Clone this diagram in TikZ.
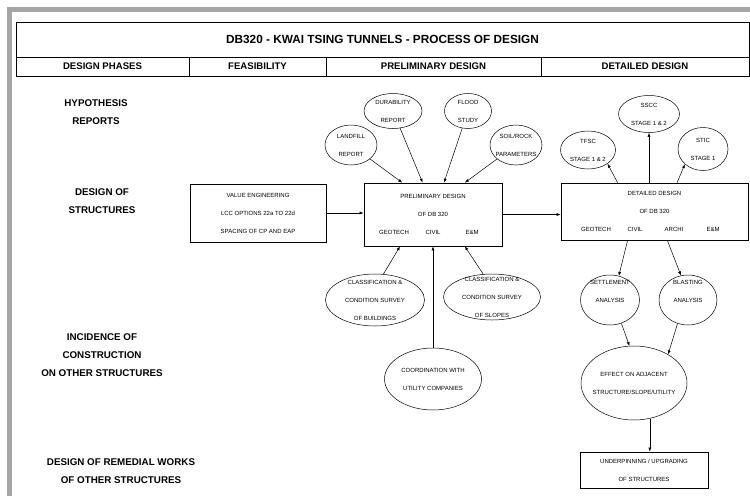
\documentclass[tikz,border=0pt]{standalone}
\usepackage{fontspec}
\setmainfont{Liberation Sans}
\usetikzlibrary{shapes.geometric,arrows.meta}

\begin{document}
\begin{tikzpicture}[
        x=1pt, y=-1pt,
        my cell/.style = {
            draw,
            line width=0.7pt,
            inner sep=0pt,
            font=\fontsize{9.6}{11}\selectfont\bfseries},
        my phase/.style = {
            align=center,
            inner sep=0pt,
            font=\fontsize{9.8}{18}\selectfont\bfseries},
        my box/.style = {
            draw,
            line width=0.7pt,
            align=center,
            inner sep=0pt,
            font=\fontsize{6}{18}\selectfont},
        my ellipse/.style = {
            draw,
            ellipse,
            line width=0.5pt,
            align=center,
            inner xsep=-8pt,
            inner ysep=-4pt,
            font=\fontsize{6}{18}\selectfont},
        my arrow/.style = {
            draw,
            line width=0.5pt,
            -{Latex[length=4pt,width=3pt]}}
    ]
    \useasboundingbox (0,0) rectangle (750,496);
    \fill[black!35] (7,7) rectangle (12,496);
    \fill[black!35] (7,7) rectangle (750,12);

    \node[my cell, minimum width=733pt, minimum height=35pt, font=\fontsize{11.8}{13}\selectfont\bfseries]
        (title) at (382.5,39.5) {DB320 - KWAI TSING TUNNELS - PROCESS OF DESIGN};
    \node[my cell, minimum width=173pt, minimum height=19pt] (phases) at (102.5,66.5) {DESIGN PHASES};
    \node[my cell, minimum width=137pt, minimum height=19pt] (feas) at (257.5,66.5) {FEASIBILITY};
    \node[my cell, minimum width=215pt, minimum height=19pt] (prel) at (433.5,66.5) {PRELIMINARY DESIGN};
    \node[my cell, minimum width=208pt, minimum height=19pt] (det) at (645,66.5) {DETAILED DESIGN};

    \node[my phase] (hypo) at (96,112.5) {HYPOTHESIS\\REPORTS};
    \node[my phase] (structs) at (102,201) {DESIGN OF\\STRUCTURES};
    \node[my phase] (incid) at (102,355.5) {INCIDENCE OF\\CONSTRUCTION\\ON OTHER STRUCTURES};
    \node[my phase] (remed) at (121,471) {DESIGN OF REMEDIAL WORKS\\OF OTHER STRUCTURES};

    \node[my box, minimum width=136pt, minimum height=58pt] (ve) at (258,213)
        {VALUE ENGINEERING\\LCC OPTIONS 22a TO 22d\\SPACING OF CP AND EAP};
    \node[my box, minimum width=138pt, minimum height=63pt] (prelim) at (433,214.5)
        {PRELIMINARY DESIGN\\OF DB 320\\\makebox[39pt]{GEOTECH}\makebox[39pt]{CIVIL}\makebox[39pt]{E\&M}};
    \node[my box, minimum width=187pt, minimum height=57pt] (detailed) at (654.5,211.5)
        {DETAILED DESIGN\\OF DB 320\\\makebox[39pt]{GEOTECH}\makebox[39pt]{CIVIL}\makebox[39pt]{ARCHI}\makebox[39pt]{E\&M}};
    \node[my box, minimum width=128pt, minimum height=36pt] (under) at (644,470)
        {UNDERPINNING / UPGRADING\\OF STRUCTURES};

    \node[my ellipse, minimum width=52pt, minimum height=40pt] (landfill) at (351,145) {LANDFILL\\REPORT};
    \node[my ellipse, minimum width=58pt, minimum height=35pt] (durability) at (393,111) {DURABILITY\\REPORT};
    \node[my ellipse, minimum width=47pt, minimum height=35pt] (flood) at (468,111) {FLOOD\\STUDY};
    \node[my ellipse, minimum width=52pt, minimum height=40pt] (soil) at (516,145) {SOIL/ROCK\\PARAMETERS};
    \node[my ellipse, minimum width=55pt, minimum height=38pt] (tfsc) at (588,150) {TFSC\\STAGE 1 \& 2};
    \node[my ellipse, minimum width=61pt, minimum height=37pt] (sscc) at (649,114) {SSCC\\STAGE 1 \& 2};
    \node[my ellipse, minimum width=50pt, minimum height=43pt] (stic) at (703,149) {STIC\\STAGE 1};
    \node[my ellipse, minimum width=99pt, minimum height=52pt] (buildings) at (375,300)
        {CLASSIFICATION \&\\CONDITION SURVEY\\OF BUILDINGS};
    \node[my ellipse, minimum width=97pt, minimum height=46pt] (slopes) at (492,297)
        {CLASSIFICATION \&\\CONDITION SURVEY\\OF SLOPES};
    \node[my ellipse, minimum width=97pt, minimum height=62pt] (coord) at (433,379)
        {COORDINATION WITH\\UTILITY COMPANIES};
    \node[my ellipse, minimum width=59pt, minimum height=50pt] (settle) at (610,300)
        {SETTLEMENT\\ANALYSIS\\\mbox{}};
    \node[my ellipse, minimum width=58pt, minimum height=50pt] (blast) at (688,300)
        {BLASTING\\ANALYSIS\\\mbox{}};
    \node[my ellipse, minimum width=106pt, minimum height=74pt] (effect) at (634,383)
        {EFFECT ON ADJACENT\\STRUCTURE/SLOPE/UTILITY};

    \draw[my arrow] (landfill) -- (prelim.134);
    \draw[my arrow] (durability) -- (prelim.108);
    \draw[my arrow] (flood) -- (prelim.71);
    \draw[my arrow] (soil) -- (prelim.45);
    \draw[my arrow] (buildings.72) -- (prelim.224);
    \draw[my arrow] (coord) -- (prelim);
    \draw[my arrow] (slopes.111) -- (prelim.315);
    \draw[my arrow] (ve.east) -- (ve.east -| prelim.west);
    \draw[my arrow] (prelim.east) -- (prelim.east -| detailed.west);
    \draw[my arrow] (detailed.142) -- (tfsc.-35);
    \draw[my arrow] (detailed.north -| sscc) -- (sscc);
    \draw[my arrow] (detailed.52) -- (stic.220);
    \draw[my arrow] (detailed.227) -- (settle.70);
    \draw[my arrow] (detailed.294) -- (blast.106);
    \draw[my arrow] (settle.296) -- (effect.97);
    \draw[my arrow] (blast.246) -- (effect.40);
    \draw[my arrow] (effect.-66) -- (effect.-66 |- under.north);
\end{tikzpicture}
\end{document}
